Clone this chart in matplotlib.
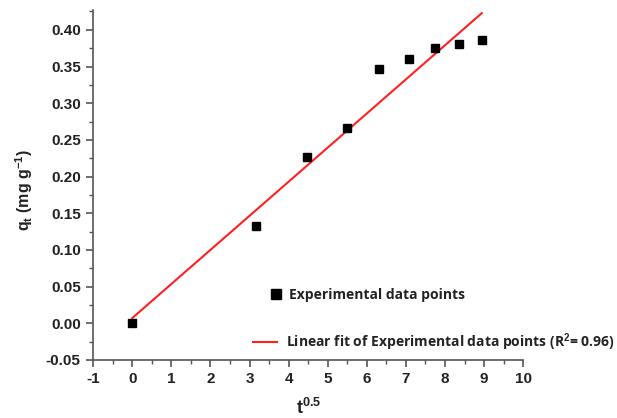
import numpy as np
import matplotlib
matplotlib.use("Agg")
import matplotlib.pyplot as plt
from matplotlib.ticker import MultipleLocator, FormatStrFormatter
from matplotlib.lines import Line2D

# Data
t_sqrt = [0.0, 3.16, 4.47, 5.48, 6.32, 7.07, 7.75, 8.37, 8.94]
q_t = [0.000, 0.132, 0.226, 0.266, 0.346, 0.360, 0.375, 0.381, 0.386]
fit_slope = 0.0465
fit_intercept = 0.007
r2_label = "0.96"

plt.rcParams['font.family'] = ['Liberation Sans', 'DejaVu Sans']
plt.rcParams['font.weight'] = 'bold'
plt.rcParams['axes.unicode_minus'] = False
plt.rcParams['mathtext.fontset'] = 'custom'
plt.rcParams['mathtext.rm'] = 'Liberation Sans:bold'
plt.rcParams['mathtext.bf'] = 'Liberation Sans:bold'
plt.rcParams['mathtext.it'] = 'Liberation Sans:bold'
plt.rcParams['mathtext.default'] = 'bf'

fig = plt.figure(figsize=(6.17, 4.18), dpi=100)
ax = fig.add_axes([0.151, 0.139, 0.697, 0.837])

fit_x = np.array([t_sqrt[0], t_sqrt[-1]])
fit_y = fit_intercept + fit_slope * fit_x
ax.plot(fit_x, fit_y, color='#ff2020', lw=1.5, zorder=2)
ax.plot(t_sqrt, q_t, 's', color='black', ms=5.2, zorder=3)

ax.set_xlim(-1, 10)
ax.set_ylim(-0.05, 0.427)
ax.xaxis.set_major_locator(MultipleLocator(1))
ax.xaxis.set_minor_locator(MultipleLocator(0.5))
ax.yaxis.set_major_locator(MultipleLocator(0.05))
ax.yaxis.set_minor_locator(MultipleLocator(0.025))
ax.yaxis.set_major_formatter(FormatStrFormatter('%.2f'))

for s in ['top', 'right']:
    ax.spines[s].set_visible(False)
for s in ['left', 'bottom']:
    ax.spines[s].set_color('#555555')
    ax.spines[s].set_linewidth(1.2)

ax.tick_params(which='major', direction='out', length=5, width=1.2, color='#555555',
               labelsize=11, pad=4, labelcolor='#222222')
ax.tick_params(which='minor', direction='out', length=3, width=1.0, color='#555555')

ax.set_xlabel(r'$\mathbf{t^{0.5}}$', fontsize=13, labelpad=8, color='#222222')
ax.set_ylabel(r'$\mathbf{q_t}$ (mg g$^{\mathbf{-1}}$)', fontsize=11.5,
              color='#222222', fontweight='bold')
ax.yaxis.set_label_coords(-0.135, 0.486)

leg_prop = {'family': ['Open Sans', 'DejaVu Sans'], 'weight': 'bold', 'size': 10.0}
h1 = [Line2D([], [], marker='s', color='black', ls='none', ms=7.5)]
l1 = ['Experimental data points']
leg1 = fig.legend(h1, l1, loc='center left', bbox_to_anchor=(0.436, 1 - 295 / 418),
                  frameon=False, handlelength=1.0, handletextpad=0.45, borderpad=0,
                  borderaxespad=0, prop=leg_prop)
h2 = [Line2D([], [], color='#ff2020', lw=1.5)]
l2 = ['Linear fit of Experimental data points (R$^{\\mathbf{2}}$= ' + r2_label + ')']
leg2 = fig.legend(h2, l2, loc='center left', bbox_to_anchor=(0.41, 1 - 342 / 418),
                  frameon=False, handlelength=1.7, handletextpad=0.65, borderpad=0,
                  borderaxespad=0, prop=leg_prop)
for leg in (leg1, leg2):
    for txt in leg.get_texts():
        txt.set_color('#222222')

fig.savefig('out.png', dpi=100, facecolor='white')
